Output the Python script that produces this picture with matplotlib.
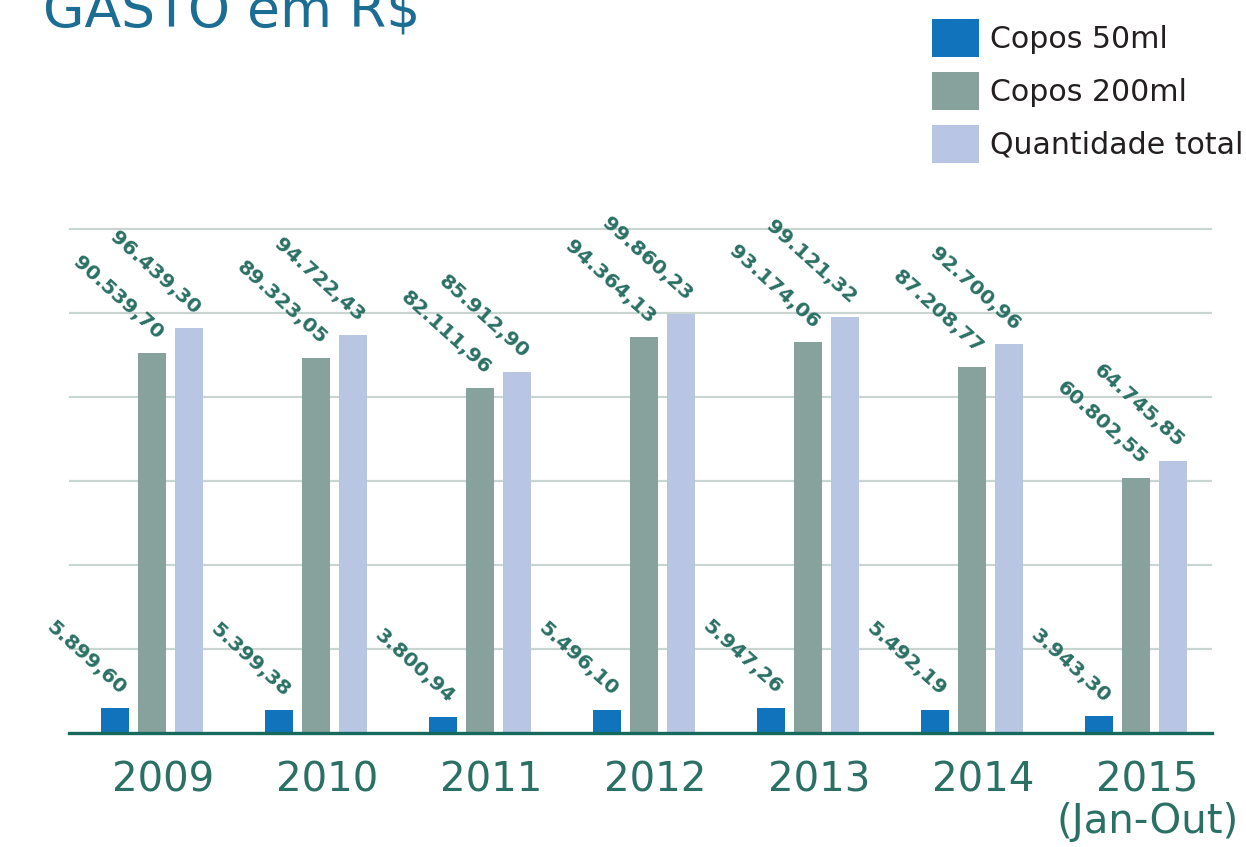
import numpy as np
import matplotlib
matplotlib.use('Agg')
from matplotlib import pyplot as plt

# data (R$)
anos = ['2009', '2010', '2011', '2012', '2013', '2014', '2015\n(Jan-Out)']
copos_50 = [5899.60, 5399.38, 3800.94, 5496.10, 5947.26, 5492.19, 3943.30]
copos_200 = [90539.70, 89323.05, 82111.96, 94364.13, 93174.06, 87208.77, 60802.55]
total = [96439.30, 94722.43, 85912.90, 99860.23, 99121.32, 92700.96, 64745.85]
series_names = ['Copos 50ml', 'Copos 200ml', 'Quantidade total']

cores = ['#1273bd', '#87a19c', '#b8c5e3']
teal = '#2b7064'


def brl(v):
    # 96439.3 -> 96.439,30
    s = f"{v:,.2f}"
    return s.replace(',', 'X').replace('.', ',').replace('X', '.')


W, H = 1246, 847
fig = plt.figure(figsize=(W / 100, H / 100), dpi=100)
ax = fig.add_axes([69 / W, 114 / H, 1143 / W, 512 / H])

x = np.arange(len(anos))
bw = 0.171
step = 0.2256

for k, vals in enumerate([copos_50, copos_200, total]):
    xs = x + (k - 1) * step
    bars = ax.bar(xs, vals, width=bw, color=cores[k], label=series_names[k], zorder=2)
    for b, v in zip(bars, vals):
        ax.annotate(brl(v), xy=(b.get_x() + b.get_width(), b.get_height()),
                    xytext=(1, 10), textcoords='offset pixels',
                    rotation=-42, ha='right', va='bottom',
                    fontsize=14.6, fontweight='bold', color=teal, zorder=3)

ax.set_xlim(-0.506, 6.463)
ax.set_ylim(0, 122000)
ax.set_yticks(np.arange(20000, 120001, 20000))
ax.yaxis.grid(True, color='#c9d5d1', linewidth=1.6, zorder=0)
ax.set_axisbelow(True)
ax.tick_params(axis='y', left=False, labelleft=False)

ax.set_xticks(x + 0.07)
ax.set_xticklabels(anos, fontsize=29, color=teal, linespacing=1.05)
ax.tick_params(axis='x', length=0, pad=20)

for side in ['left', 'right', 'top']:
    ax.spines[side].set_visible(False)
ax.spines['bottom'].set_color('#17695c')
ax.spines['bottom'].set_linewidth(2.4)
ax.spines['bottom'].set_zorder(4)

fig.text(43 / W, 1 - 27 / H, 'GASTO em R$', fontsize=38.5, color='#1b6d94',
         ha='left', va='baseline')

leg = ax.legend(loc='upper left', bbox_to_anchor=(932 / W, 1 - 19 / H),
                bbox_transform=fig.transFigure, frameon=False,
                fontsize=21.6, handlelength=1.57, handleheight=1.57,
                labelspacing=0.5, handletextpad=0.37,
                borderpad=0, borderaxespad=0)
for t in leg.get_texts():
    t.set_color('#231f20')

fig.savefig('out.png', dpi=100)
